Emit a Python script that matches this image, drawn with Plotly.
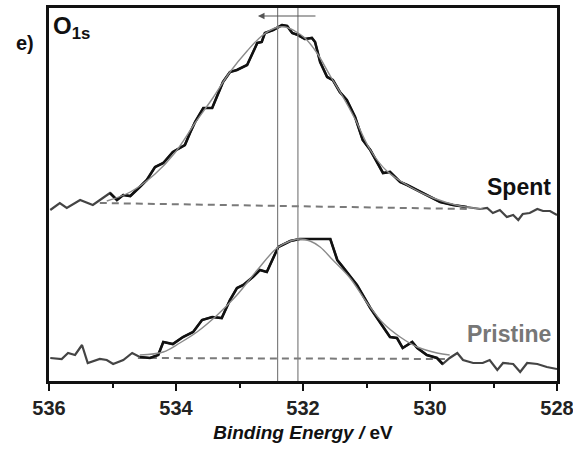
import plotly.graph_objects as go

# ---- data (binding energy in eV, intensity in arbitrary units) ----
spent_be = [535.98, 535.83, 535.72, 535.51, 535.31, 535.04, 534.93, 534.83, 534.72, 534.57,
            534.46, 534.33, 534.20, 534.05, 533.86, 533.78, 533.70, 533.57, 533.43, 533.26,
            533.15, 533.04, 532.88, 532.72, 532.65, 532.60, 532.47, 532.33, 532.25, 532.17,
            532.08, 531.97, 531.86, 531.81, 531.73, 531.62, 531.53, 531.42, 531.31, 531.18,
            531.06, 530.94, 530.83, 530.74, 530.63, 530.47, 530.36, 530.27, 530.16, 530.00,
            529.84, 529.64, 529.42, 529.21, 529.10, 529.01, 528.90, 528.79, 528.69, 528.61,
            528.54, 528.43, 528.31, 528.22, 528.11, 528.00]
spent_int = [171, 178, 173, 181, 176, 188, 181, 186, 185, 194,
             201, 214, 218, 229, 236, 248, 259, 273, 273, 299,
             309, 311, 316, 338, 339, 348, 351, 356, 355, 348,
             346, 342, 343, 339, 319, 304, 301, 289, 281, 264,
             241, 231, 218, 208, 209, 199, 196, 193, 189, 184,
             179, 176, 174, 172, 173, 168, 171, 164, 166, 161,
             167, 168, 172, 170, 170, 166]

spent_fit_be = [535.09, 534.72, 534.33, 534.02, 533.70, 533.42, 533.15, 532.88, 532.65, 532.44,
                532.28, 532.13, 531.97, 531.78, 531.57, 531.37, 531.18, 530.94, 530.68, 530.31,
                529.95, 529.53, 529.17]
spent_fit_int = [180, 189, 207, 228, 258, 283, 309, 330, 345, 353,
                 354, 350, 343, 328, 305, 284, 262, 231, 210, 194,
                 183, 175, 172]

spent_bg_be = [535.2, 529.4]
spent_bg_int = [178, 172]

pristine_be = [535.98, 535.80, 535.70, 535.59, 535.48, 535.39, 535.20, 535.09, 534.99, 534.83,
               534.69, 534.57, 534.41, 534.28, 534.20, 534.05, 533.89, 533.73, 533.59, 533.43,
               533.28, 533.15, 533.04, 532.94, 532.79, 532.68, 532.57, 532.39, 532.20, 532.05,
               531.57, 531.46, 531.37, 531.15, 530.94, 530.74, 530.63, 530.52, 530.43, 530.28,
               530.20, 530.05, 529.89, 529.80, 529.69, 529.57, 529.48, 529.32, 529.17, 529.06,
               528.94, 528.85, 528.69, 528.58, 528.47, 528.31, 528.16, 528.00]
pristine_int = [23, 22, 28, 26, 36, 18, 22, 21, 17, 21,
                28, 24, 23, 26, 39, 37, 44, 49, 61, 64,
                63, 81, 93, 96, 104, 111, 109, 134, 140, 142,
                142, 121, 114, 96, 73, 54, 44, 43, 33, 39,
                33, 26, 23, 17, 23, 28, 21, 18, 18, 21,
                11, 18, 17, 9, 18, 17, 14, 12]

pristine_fit_be = [534.57, 534.20, 533.94, 533.67, 533.35, 533.04, 532.72, 532.41, 532.20, 532.05,
                   531.89, 531.73, 531.53, 531.26, 530.99, 530.74, 530.47, 530.20, 529.89, 529.69]
pristine_fit_int = [26, 29, 38, 49, 66, 86, 111, 133, 140, 142,
                    140, 134, 121, 103, 78, 58, 44, 34, 28, 26]

pristine_bg_be = [534.6, 529.7]
pristine_bg_int = [23, 22]

spent_window = (535.1, 529.4)
pristine_window = (534.6, 529.7)

peak_lines = [532.40, 532.08]
shift_arrow = (531.78, 532.71)
arrow_level = 365

x_ticks = [536, 534, 532, 530, 528]


def window(xs, ys, win):
    hi, lo = win
    pts = [(x, y) for x, y in zip(xs, ys) if lo <= x <= hi]
    return [p[0] for p in pts], [p[1] for p in pts]


fig = go.Figure()

FONT = "Liberation Sans, Arial, sans-serif"

for be, it, win, bgx, bgy, fx, fy in [
    (spent_be, spent_int, spent_window, spent_bg_be, spent_bg_int, spent_fit_be, spent_fit_int),
    (pristine_be, pristine_int, pristine_window, pristine_bg_be, pristine_bg_int, pristine_fit_be, pristine_fit_int),
]:
    # full raw spectrum
    fig.add_trace(go.Scatter(x=be, y=it, mode="lines",
                             line=dict(color="#444444", width=2.2), hoverinfo="skip"))
    # background (dashed)
    fig.add_trace(go.Scatter(x=bgx, y=bgy, mode="lines",
                             line=dict(color="#7a7a7a", width=2, dash="7px,5px"), hoverinfo="skip"))
    # raw data in fitting window
    wx, wy = window(be, it, win)
    fig.add_trace(go.Scatter(x=wx, y=wy, mode="lines",
                             line=dict(color="#111111", width=2.6), hoverinfo="skip"))
    # fitted envelope
    fig.add_trace(go.Scatter(x=fx, y=fy, mode="lines", line_shape="spline",
                             line=dict(color="#8a8a8a", width=1.4), hoverinfo="skip"))

for xv in peak_lines:
    fig.add_shape(type="line", xref="x", yref="paper", x0=xv, x1=xv, y0=0, y1=1,
                  line=dict(color="#808080", width=1.2))

fig.add_annotation(x=shift_arrow[1], y=arrow_level, ax=shift_arrow[0], ay=arrow_level,
                   xref="x", yref="y", axref="x", ayref="y", text="",
                   showarrow=True, arrowhead=2, arrowsize=1.1, arrowwidth=1.2,
                   arrowcolor="#555555")

fig.add_annotation(x=-0.068, y=0.94, xref="paper", yref="paper", text="<b>e)</b>",
                   showarrow=False, font=dict(size=20, color="#111111", family=FONT))
fig.add_annotation(x=0.003, y=0.995, xref="paper", yref="paper", xanchor="left", yanchor="top",
                   text="<b>O<sub>1s</sub></b>",
                   showarrow=False, font=dict(size=24, color="#111111", family=FONT))
fig.add_annotation(x=0.992, y=0.52, xref="paper", yref="paper", xanchor="right", yanchor="middle",
                   text="<b>Spent</b>",
                   showarrow=False, font=dict(size=23, color="#111111", family=FONT))
fig.add_annotation(x=0.992, y=0.125, xref="paper", yref="paper", xanchor="right", yanchor="middle",
                   text="<b>Pristine</b>",
                   showarrow=False, font=dict(size=23, color="#777777", family=FONT))

fig.update_xaxes(range=[536, 528], tickvals=x_ticks, ticktext=[f"<b>{t}</b>" for t in x_ticks],
                 ticks="outside", ticklen=7, tickwidth=2, tickcolor="#111111",
                 minor=dict(dtick=1, ticks="outside", ticklen=4, tickwidth=2, tickcolor="#111111"),
                 showline=True, linecolor="#111111", linewidth=2.5, mirror=True,
                 showgrid=False, zeroline=False, automargin=False, ticklabeloverflow="allow",
                 tickfont=dict(size=20, color="#222222", family=FONT),
                 title=dict(text="<b><i>Binding Energy /</i> eV</b>",
                            font=dict(size=19, color="#111111", family=FONT), standoff=8))
fig.update_yaxes(range=[0, 373], showticklabels=False, ticks="", automargin=False,
                 showline=True, linecolor="#111111", linewidth=2.5, mirror=True,
                 showgrid=False, zeroline=False)

fig.update_layout(width=573, height=450, showlegend=False,
                  margin=dict(l=49, r=16, t=8, b=69),
                  plot_bgcolor="white", paper_bgcolor="white",
                  font=dict(family=FONT))

fig.write_html("out.html", config={"displayModeBar": False},
               post_script="document.body.style.margin='0';")
